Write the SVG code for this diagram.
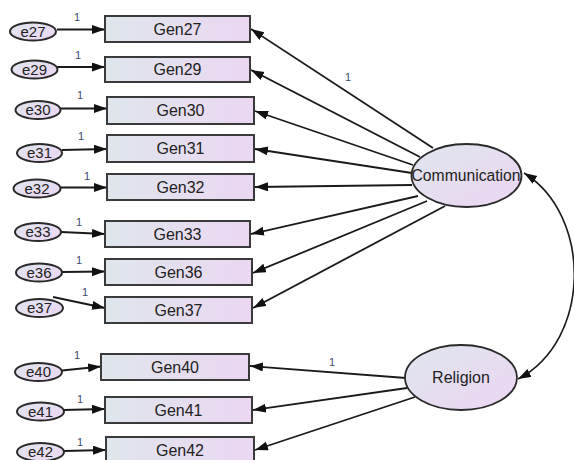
<svg xmlns="http://www.w3.org/2000/svg" width="574" height="460" viewBox="0 0 574 460">
  <defs>
    <linearGradient id="boxFill" x1="0" y1="0" x2="1" y2="0">
      <stop offset="0" stop-color="#dfe6ec"/>
      <stop offset="1" stop-color="#ebd7f2"/>
    </linearGradient>
    <linearGradient id="ovalFill" x1="0" y1="0" x2="1" y2="1">
      <stop offset="0" stop-color="#dfe6ee"/>
      <stop offset="1" stop-color="#ecd5f2"/>
    </linearGradient>
    <marker id="head" markerUnits="userSpaceOnUse" markerWidth="14" markerHeight="10" refX="13" refY="4.5" orient="auto-start-reverse">
      <path d="M0,0 L13,4.5 L0,9 z" fill="#111"/>
    </marker>
    <style>
      .box { fill: url(#boxFill); stroke: #3a3a3a; stroke-width: 2; }
      .oval { fill: url(#ovalFill); stroke: #2a2a2a; stroke-width: 1.8; }
      .err { fill: url(#ovalFill); stroke: #2a2a2a; stroke-width: 2; }
      .lbl { font-family: "Liberation Sans", Arial, sans-serif; font-size: 16px; fill: #222; text-anchor: middle; }
      .elbl { font-family: "Liberation Sans", Arial, sans-serif; font-size: 15px; fill: #222; text-anchor: middle; }
      .wt { font-family: "Liberation Sans", Arial, sans-serif; font-size: 11px; fill: #3b4a6b; }
      .edge { stroke: #1a1a1a; stroke-width: 1.8; fill: none; marker-end: url(#head); }
      .cov { stroke: #1a1a1a; stroke-width: 1.6; fill: none; marker-start: url(#head); marker-end: url(#head); }
    </style>
  </defs>

  <g id="connectors">
    <!-- error terms to indicators -->
    <line class="edge" x1="57" y1="29.5" x2="105" y2="29.5"/>
    <line class="edge" x1="57" y1="67" x2="105" y2="67"/>
    <line class="edge" x1="60" y1="108.5" x2="107" y2="108.5"/>
    <line class="edge" x1="62" y1="150" x2="107" y2="149"/>
    <line class="edge" x1="61" y1="187.5" x2="107" y2="187.5"/>
    <line class="edge" x1="61" y1="232" x2="105" y2="234"/>
    <line class="edge" x1="62" y1="272" x2="105" y2="271.5"/>
    <line class="edge" x1="53" y1="297" x2="105" y2="308"/>
    <line class="edge" x1="62" y1="370.5" x2="101" y2="366.5"/>
    <line class="edge" x1="63" y1="410" x2="105" y2="409"/>
    <line class="edge" x1="64" y1="451" x2="106" y2="450"/>
    <!-- Communication loadings -->
    <line class="edge" x1="433" y1="148" x2="251" y2="29"/>
    <line class="edge" x1="420" y1="157" x2="251" y2="70"/>
    <line class="edge" x1="413" y1="165" x2="255" y2="111"/>
    <line class="edge" x1="412" y1="173" x2="255" y2="149"/>
    <line class="edge" x1="412" y1="185" x2="255" y2="187"/>
    <line class="edge" x1="418" y1="196" x2="251" y2="234"/>
    <line class="edge" x1="427" y1="201" x2="253" y2="273"/>
    <line class="edge" x1="445" y1="206" x2="253" y2="308"/>
    <!-- Religion loadings -->
    <line class="edge" x1="406" y1="378" x2="250" y2="366"/>
    <line class="edge" x1="407" y1="388" x2="253" y2="410"/>
    <line class="edge" x1="415" y1="397" x2="255" y2="450"/>
    <!-- covariance -->
    <path class="cov" d="M524,173 C592,215 592,340 518,379"/>
    <!-- fixed weights -->
    <text class="wt" x="74" y="21">1</text>
    <text class="wt" x="75" y="59">1</text>
    <text class="wt" x="77" y="99">1</text>
    <text class="wt" x="78" y="140">1</text>
    <text class="wt" x="84" y="180">1</text>
    <text class="wt" x="76" y="226">1</text>
    <text class="wt" x="76" y="264">1</text>
    <text class="wt" x="82" y="296">1</text>
    <text class="wt" x="74" y="359">1</text>
    <text class="wt" x="77" y="403">1</text>
    <text class="wt" x="77" y="446">1</text>
    <text class="wt" x="345" y="81">1</text>
    <text class="wt" x="329" y="366">1</text>
  </g>

  <g id="Gen27"><rect class="box" x="105" y="16" width="145" height="26"/><text class="lbl" x="177.5" y="34.5">Gen27</text></g>
  <g id="Gen29"><rect class="box" x="105" y="57" width="145" height="25"/><text class="lbl" x="177.5" y="75">Gen29</text></g>
  <g id="Gen30"><rect class="box" x="107" y="97" width="147" height="27"/><text class="lbl" x="180.5" y="116">Gen30</text></g>
  <g id="Gen31"><rect class="box" x="107" y="135" width="147" height="27"/><text class="lbl" x="180.5" y="154">Gen31</text></g>
  <g id="Gen32"><rect class="box" x="107" y="174" width="147" height="26"/><text class="lbl" x="180.5" y="192.5">Gen32</text></g>
  <g id="Gen33"><rect class="box" x="105" y="221" width="145" height="26"/><text class="lbl" x="177.5" y="239.5">Gen33</text></g>
  <g id="Gen36"><rect class="box" x="105" y="259" width="147" height="26"/><text class="lbl" x="178.5" y="277.5">Gen36</text></g>
  <g id="Gen37"><rect class="box" x="105" y="297" width="147" height="26"/><text class="lbl" x="178.5" y="315.5">Gen37</text></g>
  <g id="Gen40"><rect class="box" x="101" y="354" width="148" height="26"/><text class="lbl" x="175" y="372.5">Gen40</text></g>
  <g id="Gen41"><rect class="box" x="105" y="397" width="147" height="26"/><text class="lbl" x="178.5" y="415.5">Gen41</text></g>
  <g id="Gen42"><rect class="box" x="106" y="437" width="148" height="26"/><text class="lbl" x="180" y="455.5">Gen42</text></g>

  <g id="e27"><ellipse class="err" cx="33" cy="31.5" rx="23" ry="9"/><text class="elbl" x="33" y="36.5">e27</text></g>
  <g id="e29"><ellipse class="err" cx="34.5" cy="69.5" rx="23" ry="9"/><text class="elbl" x="34.5" y="74.5">e29</text></g>
  <g id="e30"><ellipse class="err" cx="38" cy="110" rx="22.5" ry="9"/><text class="elbl" x="38" y="115">e30</text></g>
  <g id="e31"><ellipse class="err" cx="39.5" cy="153" rx="22.5" ry="9"/><text class="elbl" x="39.5" y="158">e31</text></g>
  <g id="e32"><ellipse class="err" cx="37" cy="188.5" rx="23.5" ry="9"/><text class="elbl" x="37" y="193.5">e32</text></g>
  <g id="e33"><ellipse class="err" cx="38" cy="232" rx="23" ry="9"/><text class="elbl" x="38" y="237">e33</text></g>
  <g id="e36"><ellipse class="err" cx="39" cy="272.5" rx="23" ry="9"/><text class="elbl" x="39" y="277.5">e36</text></g>
  <g id="e37"><ellipse class="err" cx="39.5" cy="308" rx="23.5" ry="9"/><text class="elbl" x="39.5" y="313">e37</text></g>
  <g id="e40"><ellipse class="err" cx="38.5" cy="372" rx="23.5" ry="9"/><text class="elbl" x="38.5" y="377">e40</text></g>
  <g id="e41"><ellipse class="err" cx="40.5" cy="411.5" rx="23.5" ry="9"/><text class="elbl" x="40.5" y="416.5">e41</text></g>
  <g id="e42"><ellipse class="err" cx="40.5" cy="452" rx="23.5" ry="9"/><text class="elbl" x="40.5" y="457">e42</text></g>

  <g id="Communication"><ellipse class="oval" cx="466.5" cy="175.5" rx="55" ry="31.5"/><text class="lbl" x="466" y="181" textLength="109" lengthAdjust="spacingAndGlyphs">Communication</text></g>
  <g id="Religion"><ellipse class="oval" cx="461" cy="377.5" rx="56" ry="32.5"/><text class="lbl" x="461" y="383">Religion</text></g>
</svg>
